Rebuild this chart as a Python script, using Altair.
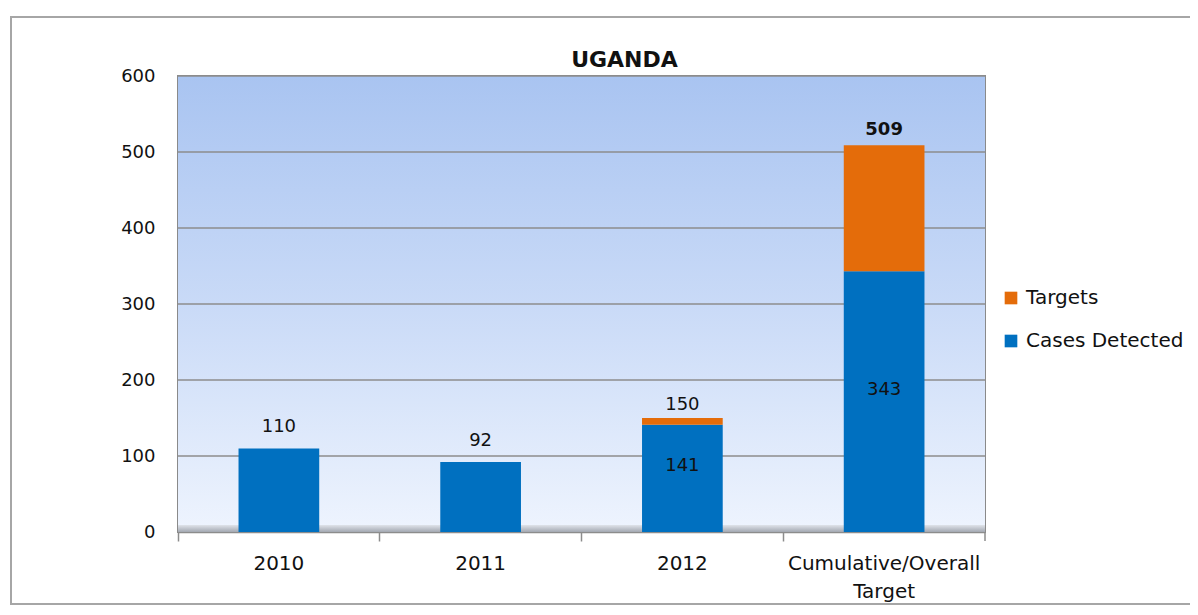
import altair as alt
import pandas as pd

categories = ["2010", "2011", "2012", "Cumulative/Overall Target"]
cases_detected = [110, 92, 141, 343]
target_totals = [110, 92, 150, 509]
y_ticks = [0, 100, 200, 300, 400, 500, 600]
chart_title = "UGANDA"

W, H = 807, 456
FONT = "DejaVu Sans"

rows = []
for c, cd, tt in zip(categories, cases_detected, target_totals):
    rows.append({"cat": c, "series": "Cases Detected", "value": cd, "order": 0})
    rows.append({"cat": c, "series": "Targets", "value": tt - cd, "order": 1})
bars_df = pd.DataFrame(rows)

totals_df = pd.DataFrame({"cat": categories, "total": target_totals,
                          "stacked": [t > c for c, t in zip(cases_detected, target_totals)],
                          "bold": [c == categories[-1] for c in categories]})
inside_df = totals_df.copy()
inside_df["cases"] = cases_detected
inside_df = inside_df[inside_df["stacked"]]
inside_df["mid"] = inside_df["cases"] / 2
grid_df = pd.DataFrame({"v": y_ticks})

xscale = alt.Scale(domain=categories, paddingInner=0, paddingOuter=0)
yscale = alt.Scale(domain=[0, 600], nice=False)
X = alt.X("cat:N", scale=xscale, sort=categories)

bg = alt.Chart(pd.DataFrame({"a": [0]})).mark_rect(
    color=alt.LinearGradient(
        gradient="linear", x1=0, x2=0, y1=0, y2=1,
        stops=[alt.GradientStop(color="#a9c4f1", offset=0),
               alt.GradientStop(color="#c9daf7", offset=0.5),
               alt.GradientStop(color="#eef4fe", offset=1)])
).encode(x=alt.value(0), x2=alt.value(W), y=alt.value(0), y2=alt.value(H))

floor = alt.Chart(pd.DataFrame({"a": [0]})).mark_rect(
    color=alt.LinearGradient(
        gradient="linear", x1=0, x2=0, y1=0, y2=1,
        stops=[alt.GradientStop(color="#dfe3ea", offset=0),
               alt.GradientStop(color="#a3a8b1", offset=1)])
).encode(x=alt.value(0), x2=alt.value(W), y=alt.value(H - 7), y2=alt.value(H))

grid = alt.Chart(grid_df).mark_rule(color="#8c8c8c", strokeWidth=1.5).encode(
    y=alt.Y("v:Q", scale=yscale),
    x=alt.value(0), x2=alt.value(W)
)

bars = alt.Chart(bars_df).mark_bar(width=alt.RelativeBandSize(0.4)).encode(
    x=alt.X("cat:N", scale=xscale, sort=categories,
            axis=alt.Axis(title=None, labelAngle=0, bandPosition=0, tickSize=9,
                          tickColor="#8c8c8c", tickWidth=1.5, domainColor="#8c8c8c",
                          domainWidth=1.5, labelFont=FONT, labelFontSize=20,
                          labelColor="#111", labelPadding=12, labelLineHeight=28,
                          labelBaseline="top", labelLimit=400,
                          labelExpr="datum.label == 'Cumulative/Overall Target' ? ['Cumulative/Overall', 'Target'] : datum.label")),
    y=alt.Y("value:Q", stack="zero", scale=yscale,
            axis=alt.Axis(title=None, values=y_ticks, grid=False, domain=False, ticks=False,
                          labelFont=FONT, labelFontSize=18, labelColor="#111",
                          labelPadding=23)),
    color=alt.Color("series:N",
                    scale=alt.Scale(domain=["Targets", "Cases Detected"],
                                    range=["#e46c0a", "#0070c0"]),
                    legend=alt.Legend(title=None, orient="none", legendX=823, legendY=212,
                                      symbolType="square", symbolSize=160,
                                      symbolStrokeWidth=0, labelFont=FONT,
                                      labelFontSize=20, labelColor="#111",
                                      rowPadding=23, labelOffset=5, labelLimit=300)),
    order=alt.Order("order:Q")
)

totals_single = alt.Chart(totals_df).transform_filter("!datum.stacked").mark_text(
    font=FONT, fontSize=18, color="#111", baseline="alphabetic", dy=-16).encode(
    x=X, y=alt.Y("total:Q", scale=yscale), text=alt.Text("total:Q")
)
totals_stacked = alt.Chart(totals_df).transform_filter("datum.stacked && !datum.bold").mark_text(
    font=FONT, fontSize=18, color="#111", baseline="alphabetic", dy=-8).encode(
    x=X, y=alt.Y("total:Q", scale=yscale), text=alt.Text("total:Q")
)
totals_bold = alt.Chart(totals_df).transform_filter("datum.bold").mark_text(
    font=FONT, fontSize=18, fontWeight="bold", color="#111", baseline="alphabetic", dy=-10).encode(
    x=X, y=alt.Y("total:Q", scale=yscale), text=alt.Text("total:Q")
)

inside = alt.Chart(inside_df).mark_text(font=FONT, fontSize=18, color="#111",
                                        baseline="middle", dy=-12).encode(
    x=X, y=alt.Y("mid:Q", scale=yscale), text=alt.Text("cases:Q")
)

title_text = alt.Chart(pd.DataFrame({"t": [chart_title]})).mark_text(
    font=FONT, fontSize=22, fontWeight="bold", color="#111", baseline="alphabetic",
    align="center").encode(
    text="t:N", x=alt.value(W / 2 + 43), y=alt.value(-9)
)

end_tick = alt.Chart(pd.DataFrame({"a": [0]})).mark_rule(color="#8c8c8c", strokeWidth=1.5).encode(
    x=alt.value(W), y=alt.value(H), y2=alt.value(H + 9)
)

frame = alt.Chart(pd.DataFrame({"a": [0]})).mark_rect(
    fillOpacity=0, stroke="#a6a6a6", strokeWidth=2
).encode(x=alt.value(-167), x2=alt.value(1030), y=alt.value(-59), y2=alt.value(528))

chart = alt.layer(bg, grid, floor, bars, totals_single, totals_stacked, totals_bold, inside,
                  title_text, end_tick, frame).properties(
    width=W, height=H,
    background="white",
    autosize=alt.AutoSizeParams(type="none"),
    padding={"left": 170, "top": 68, "right": 205, "bottom": 73}
).configure_view(stroke="#8a8a8a", strokeWidth=2)

chart.save("out.html", embed_options={"renderer": "svg", "actions": False})
